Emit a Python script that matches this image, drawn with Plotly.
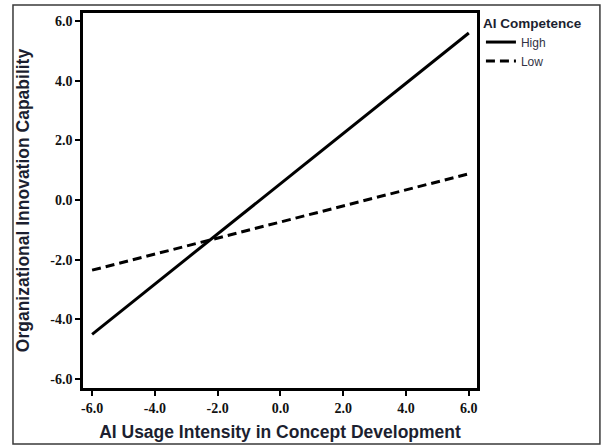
import plotly.graph_objects as go

x_vals = [-6.0, 6.0]
high_vals = [-4.5, 5.6]
low_vals = [-2.35, 0.88]
tick_vals = [-6.0, -4.0, -2.0, 0.0, 2.0, 4.0, 6.0]
tick_text = ["-6.0", "-4.0", "-2.0", "0.0", "2.0", "4.0", "6.0"]

title_color = "#1c1f30"
sans = "Liberation Sans, Arial, sans-serif"
tick_font = dict(family="Liberation Serif, Times New Roman, serif", size=14,
                 color="#111111", weight="bold")

fig = go.Figure()
fig.add_trace(go.Scatter(x=x_vals, y=high_vals, mode="lines", name="High",
                         line=dict(color="black", width=3)))
fig.add_trace(go.Scatter(x=x_vals, y=low_vals, mode="lines", name="Low",
                         line=dict(color="black", width=3, dash="9px,5px")))

axis_common = dict(
    showgrid=False, zeroline=False, showline=True, linecolor="black", linewidth=2.5,
    mirror=True, ticks="outside", ticklen=5, tickwidth=2, tickcolor="black",
    tickvals=tick_vals, ticktext=tick_text, tickfont=tick_font,
)

fig.update_layout(
    width=605, height=445,
    margin=dict(l=83, r=128, t=13, b=57, autoexpand=False),
    paper_bgcolor="white", plot_bgcolor="white",
    xaxis=dict(range=[-6.29, 6.26],
               title=dict(text="<b>AI Usage Intensity in Concept Development</b>",
                          font=dict(family=sans, size=17.5, color=title_color),
                          standoff=12),
               **axis_common),
    yaxis=dict(range=[-6.3, 6.27],
               title=dict(text="<b>Organizational Innovation Capability</b>",
                          font=dict(family=sans, size=17.5, color=title_color),
                          standoff=17),
               **axis_common),
    legend=dict(
        title=dict(text="<b>AI Competence</b>",
                   font=dict(family=sans, size=13.5, color=title_color)),
        font=dict(family=sans, size=12, color="#333344"),
        x=1.01, xanchor="left", y=1.008, yanchor="top",
        itemwidth=30, tracegroupgap=0, bgcolor="rgba(0,0,0,0)",
    ),
    showlegend=True,
    shapes=[dict(type="rect", xref="paper", yref="paper",
                 x0=-0.1777, x1=1.312, y0=-0.1493, y1=1.0213,
                 line=dict(color="#3a3a3a", width=1.5), layer="above")],
)

fig.write_html("out.html", post_script="document.body.style.margin='0px';",
               config={"displayModeBar": False})
